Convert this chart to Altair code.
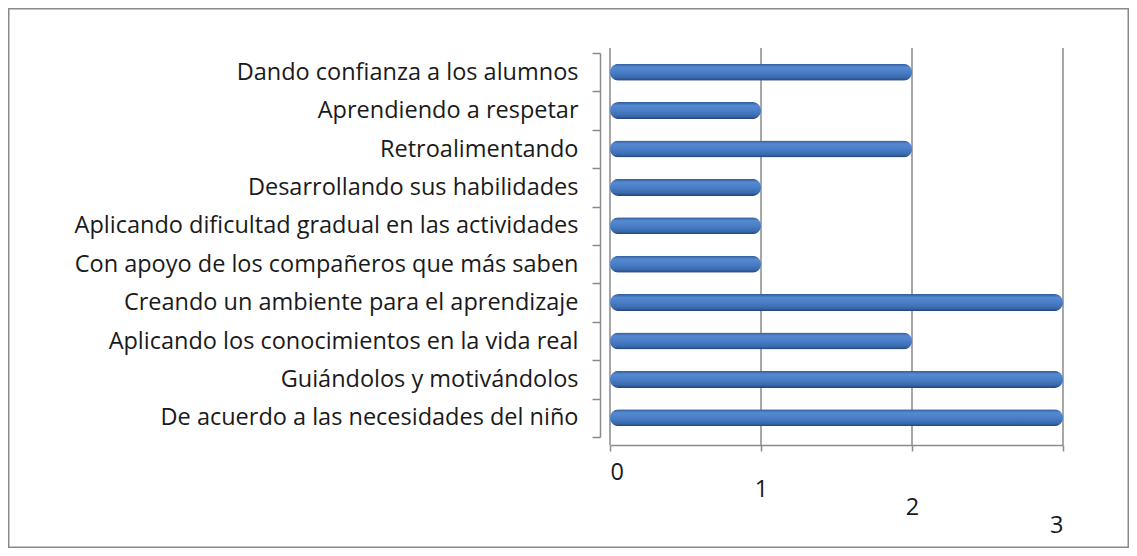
import altair as alt
import pandas as pd

categories = [
    "Dando confianza a los alumnos",
    "Aprendiendo a respetar",
    "Retroalimentando",
    "Desarrollando sus habilidades",
    "Aplicando dificultad gradual en las actividades",
    "Con apoyo de los compañeros que más saben",
    "Creando un ambiente para el aprendizaje",
    "Aplicando los conocimientos en la vida real",
    "Guiándolos y motivándolos",
    "De acuerdo a las necesidades del niño",
]
values = [2, 1, 2, 1, 1, 1, 3, 2, 3, 3]
axis_ticks = [0, 1, 2, 3]

df = pd.DataFrame({"category": categories, "value": values})
grid_df = pd.DataFrame({"value": axis_ticks})

FONT = "Open Sans"
GRAY = "#8a8a8a"
FS = 23.5

x_enc = alt.X(
    "value:Q",
    scale=alt.Scale(domain=[0, 3], range=[602, 1055], nice=False, zero=True),
    axis=alt.Axis(
        title=None,
        values=axis_ticks,
        grid=False,
        offset=-103,
        domainColor=GRAY,
        domainWidth=1.5,
        tickColor=GRAY,
        tickWidth=1.5,
        tickSize=6,
        labelPadding={"expr": "9 + datum.value * 17.7"},
        labelFont=FONT,
        labelFontSize=FS,
        labelColor="#1a1a1a",
    ),
)

grad = alt.Gradient(
    gradient="linear",
    x1=0, x2=0, y1=0, y2=1,
    stops=[
        alt.GradientStop(color="#305c99", offset=0),
        alt.GradientStop(color="#5589d0", offset=0.2),
        alt.GradientStop(color="#4a7ec7", offset=0.5),
        alt.GradientStop(color="#3a6aae", offset=0.82),
        alt.GradientStop(color="#21447a", offset=1),
    ],
)

rules = alt.Chart(grid_df).mark_rule(color=GRAY, strokeWidth=1.5).encode(
    x=x_enc,
    y=alt.value(40),
    y2=alt.value(437),
)

bars = alt.Chart(df).mark_bar(height=17, cornerRadius=8.5, color=grad).encode(
    x=x_enc,
    y=alt.Y(
        "category:N",
        sort=categories,
        scale=alt.Scale(range=[45, 429], paddingInner=0, paddingOuter=0),
        axis=alt.Axis(
            title=None,
            offset=-592,
            tickBand="extent",
            domainColor=GRAY,
            domainWidth=1.5,
            tickColor=GRAY,
            tickWidth=1.5,
            tickSize=8,
            labelPadding=14,
            labelFont=FONT,
            labelFontSize=FS,
            labelColor="#1a1a1a",
            labelLimit=0,
        ),
    ),
)

chart = (
    alt.layer(rules, bars)
    .properties(
        width=1121,
        height=540,
        padding=0,
        autosize=alt.AutoSizeParams(type="none"),
    )
    .configure_view(stroke=GRAY, strokeWidth=3)
)

chart.save("out.html", embed_options={"renderer": "svg", "actions": False})
